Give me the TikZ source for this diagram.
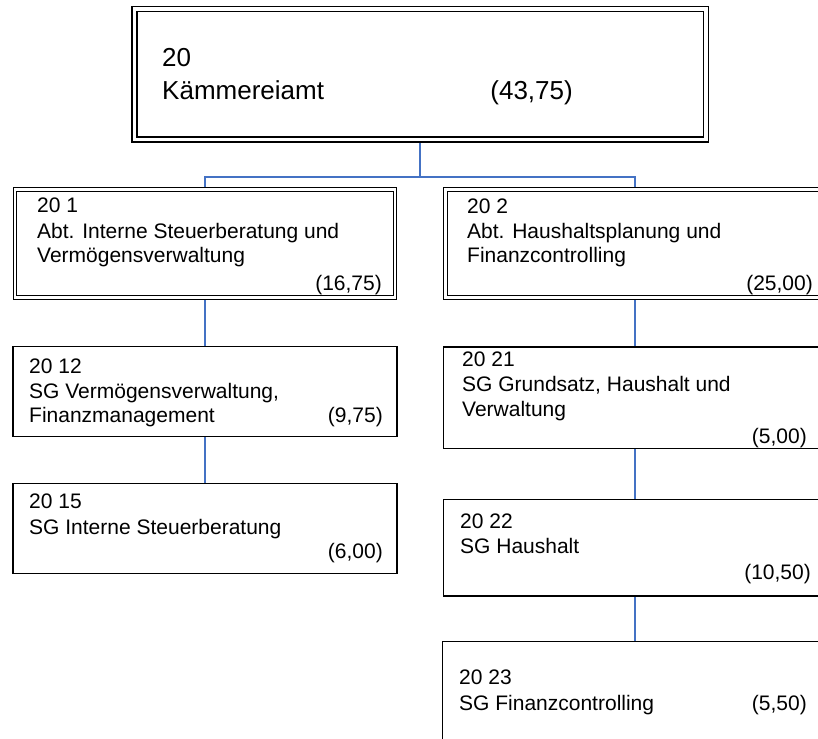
\documentclass[tikz,border=0pt]{standalone}
\usepackage{fontspec}
\setmainfont{Liberation Sans}
\usetikzlibrary{positioning, backgrounds}
\definecolor{linkblue}{RGB}{68, 114, 196}

\tikzset{
  unitbox/.style={draw, fill=white, line width=1.2pt, rectangle, inner sep=0pt, outer sep=0pt, anchor=north west},
  deptbox/.style={unitbox, double, double distance=2.4pt, line width=1.2pt},
  headbox/.style={unitbox, double, double distance=3.5pt, line width=1.5pt},
  txt/.style={anchor=base west, inner sep=0pt, font=\fontsize{21}{25}\selectfont},
  headtxt/.style={txt, font=\fontsize{26}{33}\selectfont},
  fte/.style={txt, anchor=base east},
  link/.style={linkblue, line width=1.3pt},
}

\begin{document}
\begin{tikzpicture}[x=1pt, y=-1pt]
  \useasboundingbox (0,0) rectangle (818,738);
  \clip (0,0) rectangle (818,738);

  % boxes
  \node[headbox, minimum width=571.5pt, minimum height=130.5pt] (amt) at (134.25,9.25) {};
  \node[deptbox, minimum width=380pt, minimum height=108pt] (abt1) at (14.9,189.4) {};
  \node[deptbox, minimum width=379pt, minimum height=108pt] (abt2) at (445.4,189.4) {};
  \node[unitbox, minimum width=384pt, minimum height=90pt] (sg12) at (12.9,346.5) {};
  \node[unitbox, minimum width=384pt, minimum height=90pt] (sg15) at (12.9,483.5) {};
  \node[unitbox, minimum width=383pt, minimum height=101.5pt] (sg21) at (443.4,347) {};
  \node[unitbox, minimum width=383pt, minimum height=96.5pt] (sg22) at (443.4,499.5) {};
  \node[unitbox, minimum width=385pt, minimum height=120pt] (sg23) at (442.4,641.5) {};

  % connectors
  \coordinate (bus) at (420,177);
  \begin{scope}[on background layer]
    \draw[link] (amt.south) -- (bus);
    \draw[link] (abt1.north) |- (bus) -| (abt2.north);
    \draw[link] (abt1.south) -- (sg12.north);
    \draw[link] (sg12.south) -- (sg15.north);
    \draw[link] (abt2.south) -- (sg21.north);
    \draw[link] (sg21.south) -- (sg22.north);
    \draw[link] (sg22.south) -- (sg23.north);
  \end{scope}

  % texts
  \node[headtxt] (amt-nr) at (162,67) {20};
  \node[headtxt] (amt-name) at (162,100) {Kämmereiamt};
  \node[headtxt, anchor=base east] (amt-fte) at (573,100) {(43,75)};

  \node[txt] (abt1-nr) at (37,212) {20 1};
  \node[txt] (abt1-name) at (37,238) {Abt. Interne Steuerberatung und};
  \node[txt] (abt1-name2) at (37,262) {Vermögensverwaltung};
  \node[fte] (abt1-fte) at (382,290) {(16,75)};

  \node[txt] (abt2-nr) at (467,213) {20 2};
  \node[txt] (abt2-name) at (467,238) {Abt. Haushaltsplanung und};
  \node[txt] (abt2-name2) at (467,262) {Finanzcontrolling};
  \node[fte] (abt2-fte) at (813,290) {(25,00)};

  \node[txt] (sg12-nr) at (29,373) {20 12};
  \node[txt] (sg12-name) at (29,398) {SG Vermögensverwaltung,};
  \node[txt] (sg12-name2) at (29,422) {Finanzmanagement};
  \node[fte] (sg12-fte) at (383,422) {(9,75)};

  \node[txt] (sg15-nr) at (29,508) {20 15};
  \node[txt] (sg15-name) at (29,534) {SG Interne Steuerberatung};
  \node[fte] (sg15-fte) at (383,558) {(6,00)};

  \node[txt] (sg21-nr) at (462,366) {20 21};
  \node[txt] (sg21-name) at (462,391) {SG Grundsatz, Haushalt und};
  \node[txt] (sg21-name2) at (462,416) {Verwaltung};
  \node[fte] (sg21-fte) at (807,443) {(5,00)};

  \node[txt] (sg22-nr) at (460,528) {20 22};
  \node[txt] (sg22-name) at (460,553) {SG Haushalt};
  \node[fte] (sg22-fte) at (811,579) {(10,50)};

  \node[txt] (sg23-nr) at (459,684) {20 23};
  \node[txt] (sg23-name) at (459,710) {SG Finanzcontrolling};
  \node[fte] (sg23-fte) at (807,710) {(5,50)};
\end{tikzpicture}
\end{document}
